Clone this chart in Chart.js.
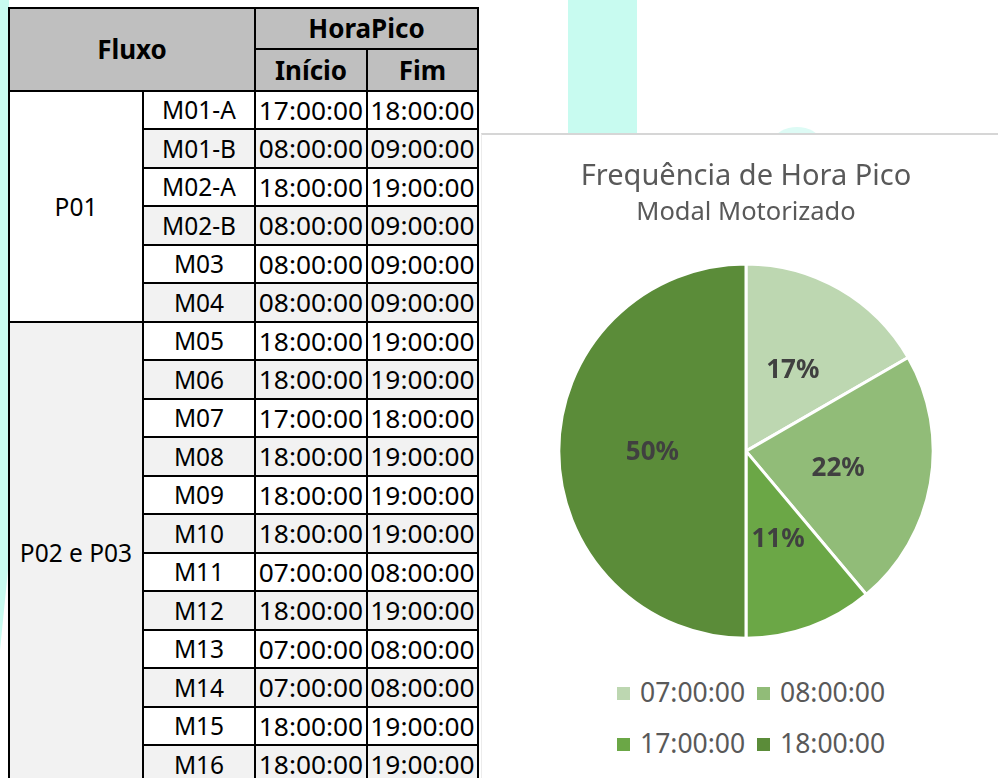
<!DOCTYPE html>
<html><head><meta charset="utf-8">
<script src="https://cdn.jsdelivr.net/npm/chart.js@4.4.1/dist/chart.umd.min.js"></script>
<style>
html,body{margin:0;padding:0;width:998px;height:778px;overflow:hidden;background:#fff;font-family:"Noto Sans",sans-serif;}
.teal{position:absolute;background:#C8FBF0;}
#tbl{position:absolute;left:8px;top:7px;background:#000;padding:2px;display:grid;gap:2px;
 grid-template-columns:132px 110px 110px 109px;
 grid-template-rows:38.5px 40.2px repeat(18,36.5px);z-index:2;}
#tbl div{display:flex;align-items:center;justify-content:center;font-size:24.5px;color:#000;white-space:nowrap;background:#fff;}
#tbl div.t{font-size:26.3px;}
#tbl div.h{background:#BFBFBF;font-weight:bold;font-size:26px;}
#tbl div.g{background:#F2F2F2;}
#panel{position:absolute;left:481px;top:133px;width:517px;height:645px;background:#fff;border-top:2px solid #d6d6d6;border-left:1px solid #ececec;box-sizing:border-box;z-index:3;}
#wrap{position:absolute;left:536px;top:135px;width:420px;height:506px;z-index:4;}
#legend{position:absolute;left:0;top:0;z-index:5;}
.li{position:absolute;display:flex;align-items:center;height:36px;font-size:26.5px;color:#595959;white-space:nowrap;}
.li span.b{display:inline-block;width:13px;height:13px;margin-right:10px;margin-top:3px;}
</style></head>
<body>
<div class="teal" style="left:0;top:0;width:9px;height:650px;clip-path:polygon(0 0,100% 0,100% 560px,0 650px);"></div>
<div class="teal" style="left:568px;top:0;width:69px;height:140px;"></div>
<div class="teal" style="left:775px;top:127px;width:44px;height:26px;border-radius:50%;background:#DDFBF5;"></div>
<div id="tbl"></div>
<div id="panel"></div>
<div id="wrap"><canvas id="c" width="420" height="506"></canvas></div>
<div id="legend"></div>
<script>
// ---- table data ----
const groups = ['P01', 'P02 e P03'];
const groupSizes = [6, 12];
const fluxos = ['M01-A','M01-B','M02-A','M02-B','M03','M04','M05','M06','M07','M08','M09','M10','M11','M12','M13','M14','M15','M16'];
const inicio = ['17:00:00','08:00:00','18:00:00','08:00:00','08:00:00','08:00:00','18:00:00','18:00:00','17:00:00','18:00:00','18:00:00','18:00:00','07:00:00','18:00:00','07:00:00','07:00:00','18:00:00','18:00:00'];
const fim    = ['18:00:00','09:00:00','19:00:00','09:00:00','09:00:00','09:00:00','19:00:00','19:00:00','18:00:00','19:00:00','19:00:00','19:00:00','08:00:00','19:00:00','08:00:00','08:00:00','19:00:00','19:00:00'];

// ---- chart data ----
const categories = ['07:00:00','08:00:00','17:00:00','18:00:00'];
const counts = [3, 4, 2, 9];
const colors = ['#BDD7B1','#91BC78','#6BA746','#5B8C39'];
const chartTitle = 'Frequência de Hora Pico';
const chartSubtitle = 'Modal Motorizado';

// build table
const tbl = document.getElementById('tbl');
function cell(text, col, row, cls, colSpan, rowSpan){
  const d = document.createElement('div');
  d.textContent = text;
  if (cls) d.className = cls;
  d.style.gridColumn = col + ' / span ' + (colSpan||1);
  d.style.gridRow = row + ' / span ' + (rowSpan||1);
  tbl.appendChild(d);
}
cell('Fluxo',1,1,'h',2,2);
cell('HoraPico',3,1,'h',2,1);
cell('Início',3,2,'h');
cell('Fim',4,2,'h');
let r0 = 3;
groups.forEach((g,i)=>{ cell(g,1,r0,i%2?'g':'',1,groupSizes[i]); r0 += groupSizes[i]; });
fluxos.forEach((f,i)=>{
  const cls = i%2 ? 'g' : '';
  cell(f,2,3+i,cls); cell(inicio[i],3,3+i,cls+' t'); cell(fim[i],4,3+i,cls+' t');
});

// legend (HTML)
const leg = document.getElementById('legend');
const rowCenters = [692, 743];
categories.forEach((c,i)=>{
  const d = document.createElement('div');
  d.className = 'li';
  d.style.left = (617 + (i%2)*140) + 'px';
  d.style.top = (rowCenters[Math.floor(i/2)] - 18) + 'px';
  d.innerHTML = '<span class="b" style="background:'+colors[i]+'"></span>';
  d.appendChild(document.createTextNode(c));
  leg.appendChild(d);
});

const labelPlugin = {
  id:'pctLabels',
  afterDatasetsDraw(chart){
    const ctx = chart.ctx;
    const meta = chart.getDatasetMeta(0);
    const data = chart.data.datasets[0].data;
    const total = data.reduce((a,b)=>a+b,0);
    ctx.save();
    ctx.font = 'bold 26px "Noto Sans"';
    ctx.fillStyle = '#404040';
    ctx.textAlign = 'center';
    ctx.textBaseline = 'middle';
    meta.data.forEach((arc,i)=>{
      const p = arc.tooltipPosition();
      ctx.fillText(Math.round(data[i]/total*100)+'%', p.x, p.y + 1);
    });
    ctx.restore();
  }
};

new Chart(document.getElementById('c'), {
  type:'pie',
  data:{labels:categories, datasets:[{data:counts, backgroundColor:colors, borderColor:'#ffffff', borderWidth:3}]},
  options:{
    responsive:false, animation:false, devicePixelRatio:1,
    layout:{padding:{bottom:1.2}},
    plugins:{
      legend:{display:false}, tooltip:{enabled:false},
      title:{display:true, text:chartTitle, color:'#595959', font:{family:'Noto Sans', size:29, weight:'normal', lineHeight:1.2}, padding:{top:24.6,bottom:0}},
      subtitle:{display:true, text:chartSubtitle, color:'#595959', font:{family:'Noto Sans', size:25.5, weight:'normal', lineHeight:1.2}, padding:{top:2.9,bottom:34.5}}
    }
  },
  plugins:[labelPlugin]
});
</script>
</body></html>
